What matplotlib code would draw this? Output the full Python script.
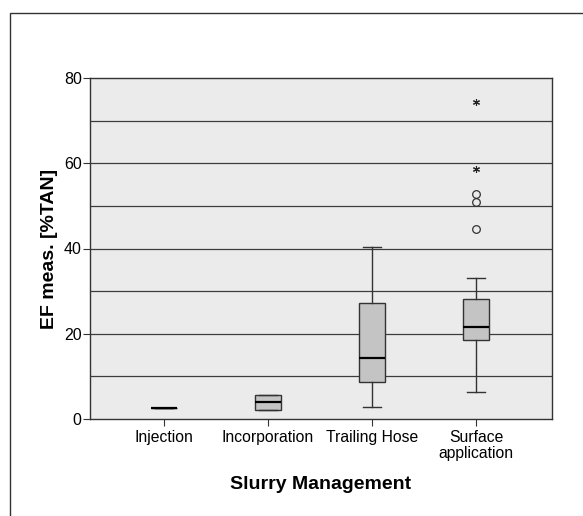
import numpy as np
import matplotlib
matplotlib.use("Agg")
import matplotlib.pyplot as plt
from matplotlib.patches import Rectangle

plt.rcParams['font.family'] = ['Liberation Sans', 'DejaVu Sans']

# data
groups = ["Injection", "Incorporation", "Trailing Hose", "Surface\napplication"]
q1 = [2.6, 2.1, 8.6, 18.6]
med = [2.6, 4.0, 14.3, 21.5]
q3 = [2.6, 5.7, 27.2, 28.1]
whislo = [2.6, 2.1, 2.9, 6.4]
whishi = [2.6, 5.7, 40.4, 33.0]
outliers = [[], [], [], [44.5, 50.8, 52.7]]
extremes = [[], [], [], [58.6, 74.4]]

stats = []
for i in range(len(groups)):
    stats.append(dict(q1=q1[i], med=med[i], q3=q3[i], whislo=whislo[i],
                      whishi=whishi[i], fliers=outliers[i], label=groups[i]))

fig = plt.figure(figsize=(5.83, 5.16), dpi=100)
ax = fig.add_axes([90 / 583, 1 - 419 / 516, 462 / 583, 341 / 516])
ax.set_facecolor("#ebebeb")

# horizontal grid
for y in range(10, 80, 10):
    ax.axhline(y, color="#3c3c3c", lw=0.9, zorder=1)

pos = np.arange(1, len(groups) + 1)
bp = ax.bxp(stats, positions=pos, widths=0.25, patch_artist=True,
            showfliers=True, manage_ticks=False,
            boxprops=dict(facecolor="#c4c4c4", edgecolor="#333333", lw=1),
            medianprops=dict(color="black", lw=1.6),
            whiskerprops=dict(color="#333333", lw=1),
            capprops=dict(color="#333333", lw=1),
            flierprops=dict(marker="o", markersize=5.5, markerfacecolor="none",
                            markeredgecolor="#333333", markeredgewidth=0.9))
for art in bp["boxes"] + bp["medians"] + bp["whiskers"] + bp["caps"]:
    art.set_zorder(3)
for c in bp["caps"]:
    x = c.get_xdata()
    m = x.mean()
    c.set_xdata([m - 0.09, m + 0.09])

for i, ex in enumerate(extremes):
    if ex:
        ax.plot([pos[i]] * len(ex), ex, linestyle="none", marker=(6, 2, 0),
                markersize=5, color="#222222", mew=0.8, zorder=4)

ax.set_xlim(1 - 74 / 104, 4 + 76 / 104)
ax.set_ylim(0, 80)
ax.set_yticks([0, 20, 40, 60, 80])
ax.set_xticks(pos)
ax.set_xticklabels(groups, fontsize=11.3, linespacing=1.05)
ax.tick_params(axis="y", labelsize=11.5, length=5, width=0.8, color="#333333", pad=1)
ax.tick_params(axis="x", length=5, width=0.8, color="#333333", pad=3)
for s in ax.spines.values():
    s.set_color("#333333")
    s.set_linewidth(1)

ax.set_ylabel("EF meas. [%TAN]", fontsize=14, fontweight="bold", labelpad=4)
ax.set_xlabel("Slurry Management", fontsize=14, fontweight="bold", labelpad=11)

# outer frame of the picture (left and top edges visible)
fig.patches.append(Rectangle((10 / 583, -0.1), 1.2, 1 - 13 / 516 + 0.1,
                             transform=fig.transFigure, fill=False,
                             edgecolor="#333333", lw=1))

fig.savefig("out.png", dpi=100)
